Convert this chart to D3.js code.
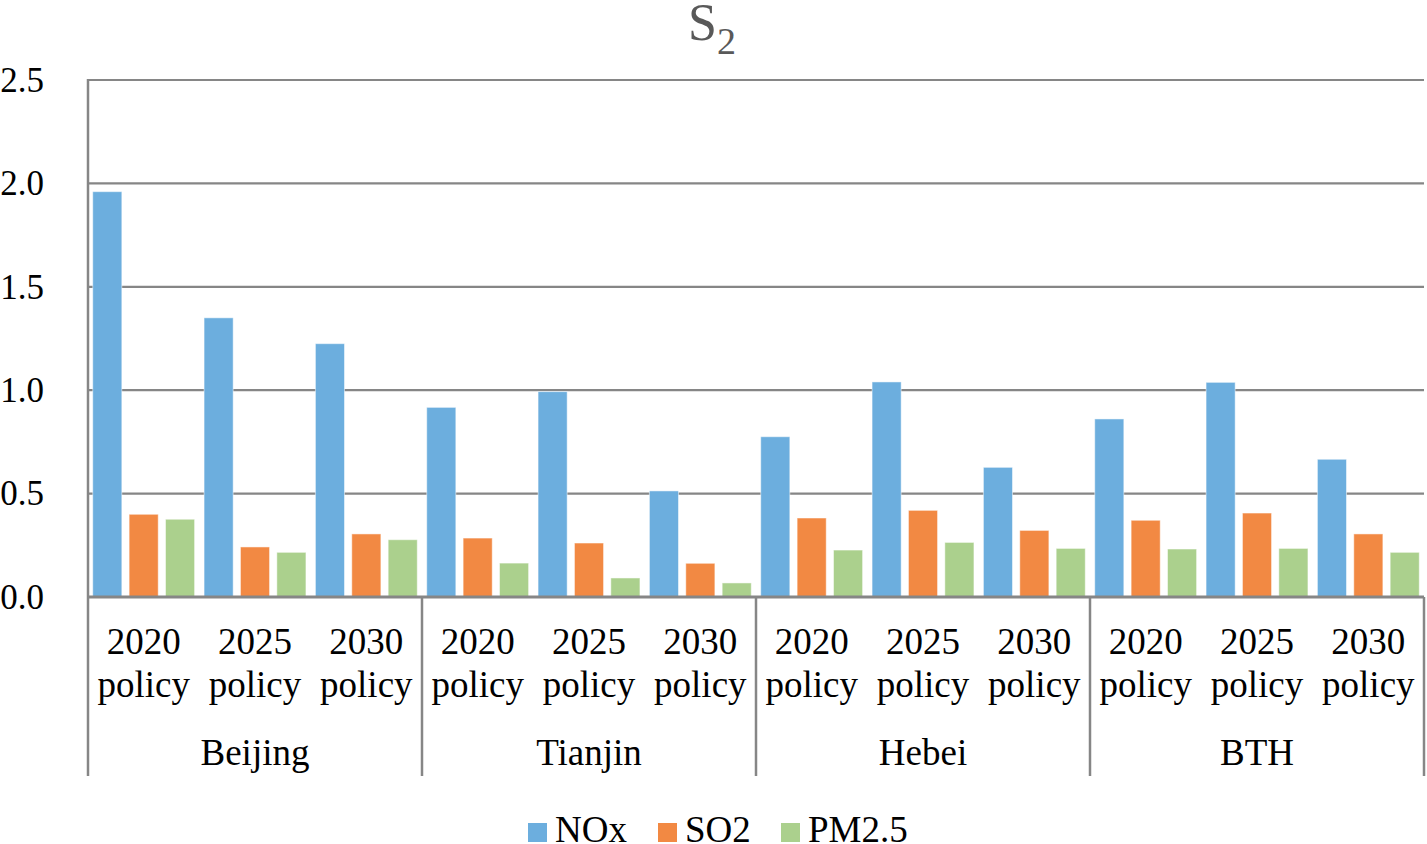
<!DOCTYPE html>
<html>
<head>
<meta charset="utf-8">
<script src="https://cdn.jsdelivr.net/npm/d3@7.9.0/dist/d3.min.js"></script>
<style>
  body { margin: 0; background: #fff; }
  svg { display: block; font-family: "Liberation Serif", "Times New Roman", serif; }
</style>
</head>
<body>
<div id="chart"></div>
<script>
const regions = ['Beijing', 'Tianjin', 'Hebei', 'BTH'];
const policies = ['2020 policy', '2025 policy', '2030 policy'];
const series = ['NOx', 'SO2', 'PM2.5'];
const colors = ['#6caede', '#f28943', '#abd08d'];
const yTicks = [0, 0.5, 1.0, 1.5, 2.0, 2.5];

// values per region, per policy: [NOx, SO2, PM2.5]
const beijing = [[1.96, 0.40, 0.376], [1.35, 0.242, 0.216], [1.225, 0.305, 0.277]];
const tianjin = [[0.917, 0.285, 0.164], [0.993, 0.261, 0.092], [0.513, 0.163, 0.068]];
const hebei = [[0.775, 0.382, 0.227], [1.04, 0.419, 0.264], [0.627, 0.322, 0.235]];
const bth = [[0.861, 0.371, 0.232], [1.038, 0.406, 0.235], [0.666, 0.305, 0.216]];
const regionValues = [beijing, tianjin, hebei, bth];

const width = 1427;
const height = 844;
const plot = { left: 88, right: 1424, top: 80, bottom: 597 };

const groups = [];
regions.forEach((r, ri) => {
    policies.forEach((p, pi) => {
        groups.push({ key: r + '|' + p, region: r, policy: p, values: regionValues[ri][pi] });
    });
});

const svg = d3.select('#chart')
    .append('svg')
    .attr('width', width)
    .attr('height', height);

const x0 = d3.scaleBand()
    .domain(groups.map(d => d.key))
    .range([plot.left, plot.right])
    .paddingInner(0)
    .paddingOuter(0);

const x1 = d3.scaleBand()
    .domain(series)
    .range([0, x0.bandwidth()])
    .paddingInner(0.2)
    .paddingOuter(0.13);

const y = d3.scaleLinear()
    .domain([0, 2.5])
    .range([plot.bottom, plot.top]);

const color = d3.scaleOrdinal().domain(series).range(colors);

// gridlines
svg.append('g')
    .selectAll('line')
    .data(yTicks.filter(d => d > 0))
    .join('line')
    .attr('x1', plot.left)
    .attr('x2', plot.right)
    .attr('y1', d => y(d))
    .attr('y2', d => y(d))
    .attr('stroke', '#868686')
    .attr('stroke-width', 2.2);

// y axis labels
const yAxis = svg.append('g')
    .attr('transform', `translate(${plot.left},0)`)
    .call(d3.axisLeft(y).tickValues(yTicks).tickFormat(d3.format('.1f')).tickSize(0).tickPadding(44));
yAxis.select('.domain').remove();
yAxis.selectAll('text')
    .attr('font-family', '"Liberation Serif", "Times New Roman", serif')
    .attr('font-size', 35)
    .attr('fill', '#000');

// bars
const g = svg.append('g')
    .selectAll('g')
    .data(groups)
    .join('g')
    .attr('transform', d => `translate(${x0(d.key)},0)`);

g.selectAll('rect')
    .data(d => d.values.map((v, i) => ({ name: series[i], value: v })))
    .join('rect')
    .attr('x', d => x1(d.name))
    .attr('width', x1.bandwidth())
    .attr('y', d => y(d.value))
    .attr('height', d => y(0) - y(d.value))
    .attr('fill', d => color(d.name))
    .attr('stroke', '#fff')
    .attr('stroke-opacity', 0.5)
    .attr('stroke-width', 1);

// axis lines
const axisColor = '#868686';
svg.append('line')
    .attr('x1', plot.left).attr('x2', plot.right)
    .attr('y1', plot.bottom).attr('y2', plot.bottom)
    .attr('stroke', axisColor).attr('stroke-width', 3);
svg.append('line')
    .attr('x1', plot.left).attr('x2', plot.left)
    .attr('y1', plot.top - 1).attr('y2', plot.bottom)
    .attr('stroke', axisColor).attr('stroke-width', 2.5);

// group separators for the two-level category axis
const groupWidth = x0.step() * policies.length;
const sepX = d3.range(regions.length + 1).map(i => plot.left + i * groupWidth);
svg.append('g')
    .selectAll('line')
    .data(sepX)
    .join('line')
    .attr('x1', d => d).attr('x2', d => d)
    .attr('y1', plot.bottom).attr('y2', 776)
    .attr('stroke', axisColor).attr('stroke-width', 2.5);

// policy labels (two lines)
const labels = svg.append('g')
    .attr('font-size', 37)
    .attr('text-anchor', 'middle')
    .attr('fill', '#000');
labels.selectAll('text')
    .data(groups)
    .join('text')
    .attr('x', d => x0(d.key) + x0.bandwidth() / 2)
    .attr('y', 654)
    .each(function (d) {
        const parts = d.policy.split(' ');
        const t = d3.select(this);
        t.append('tspan').attr('x', x0(d.key) + x0.bandwidth() / 2).attr('y', 654).text(parts[0]);
        t.append('tspan').attr('x', x0(d.key) + x0.bandwidth() / 2).attr('y', 697).text(parts[1]);
    });

// region labels
svg.append('g')
    .attr('font-size', 37)
    .attr('text-anchor', 'middle')
    .selectAll('text')
    .data(regions)
    .join('text')
    .attr('x', (d, i) => plot.left + (i + 0.5) * groupWidth)
    .attr('y', 765)
    .text(d => d);

// title
const title = svg.append('text')
    .attr('x', 688)
    .attr('y', 40)
    .attr('fill', '#595959')
    .attr('font-size', 52);
title.append('tspan').text('S');
title.append('tspan').attr('font-size', 38).attr('dy', 14).text('2');

// legend
const legendX = [528, 658, 781];
const legend = svg.append('g')
    .selectAll('g')
    .data(series)
    .join('g')
    .attr('transform', (d, i) => `translate(${legendX[i]},0)`);
legend.append('rect')
    .attr('x', 0).attr('y', 823)
    .attr('width', 19).attr('height', 19)
    .attr('fill', d => color(d));
legend.append('text')
    .attr('x', 27).attr('y', 842)
    .attr('font-size', 37)
    .text(d => d);
</script>
</body>
</html>
